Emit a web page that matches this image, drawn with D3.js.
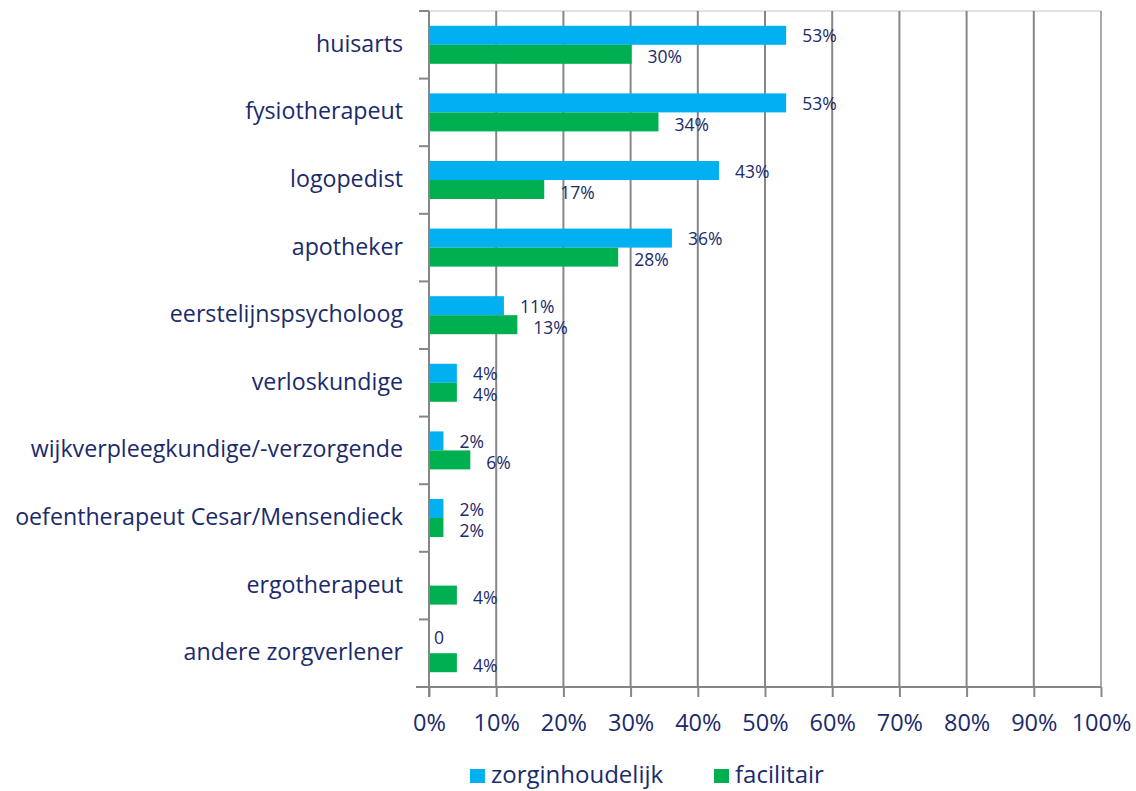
<!DOCTYPE html>
<html><head><meta charset="utf-8">
<script src="https://cdn.jsdelivr.net/npm/d3@7"></script>
<style>
html,body{margin:0;padding:0;background:#fff;}
svg{display:block;font-family:"Open Sans",sans-serif;}
</style></head>
<body><svg id="c" width="1136" height="791"></svg>
<script>
const categories = ["huisarts","fysiotherapeut","logopedist","apotheker","eerstelijnspsycholoog","verloskundige","wijkverpleegkundige/-verzorgende","oefentherapeut Cesar/Mensendieck","ergotherapeut","andere zorgverlener"];
const seriesNames = ["zorginhoudelijk","facilitair"];
const zorginhoudelijk = [53,53,43,36,11,4,2,2,null,0];
const facilitair = [30,34,17,28,13,4,6,2,4,4];
const xTicks = [0,10,20,30,40,50,60,70,80,90,100];
const colors = ["#00B0F0","#00B050"];
const textColor = "#1b2a6b";

const svg = d3.select("#c");
const pL = 429, pR = 1101, pT = 11, pB = 687;
const x = d3.scaleLinear().domain([0,100]).range([pL,pR]);
const y = d3.scaleBand().domain(categories).range([pT,pB]).paddingInner(0).paddingOuter(0);
const inner = d3.scaleBand().domain(seriesNames).range([0,38]);

// top border
svg.append("line").attr("x1",pL).attr("x2",pR+1).attr("y1",pT).attr("y2",pT).attr("stroke","#d9d9d9").attr("stroke-width",1.5);
// gridlines
svg.append("g").selectAll("line").data(xTicks.slice(1)).join("line")
  .attr("x1",d=>x(d)).attr("x2",d=>x(d)).attr("y1",pT).attr("y2",pB)
  .attr("stroke",d=>d===100?"#aaaaaa":"#868686").attr("stroke-width",2);

// bottom axis
const xAxis = d3.axisBottom(x).tickValues(xTicks).tickFormat(d=>d+"%").tickSize(10).tickPadding(17);
const gx = svg.append("g").attr("transform",`translate(0,${pB})`).call(xAxis);
gx.select(".domain").attr("stroke","#868686").attr("stroke-width",2).attr("d",`M${pL-13},0H${pR}`);
gx.selectAll(".tick line").attr("stroke","#868686").attr("stroke-width",2);
gx.selectAll(".tick text").attr("fill",textColor).attr("font-size",23.5).attr("font-family","'Open Sans',sans-serif");

// left axis
const yAxis = d3.axisLeft(y).tickSize(0).tickPadding(26);
const gy = svg.append("g").attr("transform",`translate(${pL},0)`).call(yAxis);
gy.select(".domain").remove();
gy.selectAll(".tick text").attr("fill",textColor).attr("font-size",23.2).attr("font-family","'Open Sans',sans-serif").attr("dy","0.3em");
// category separator ticks
const sepY = categories.map(c=>y(c)).concat([pB]);
svg.append("g").selectAll("line").data(sepY).join("line")
  .attr("x1",pL-10).attr("x2",pL).attr("y1",d=>d).attr("y2",d=>d)
  .attr("stroke","#868686").attr("stroke-width",2);
svg.append("line").attr("x1",pL).attr("x2",pL).attr("y1",pT).attr("y2",pB+10).attr("stroke","#868686").attr("stroke-width",2);

// bars
const rows = categories.map((c,i)=>({c, vals:[zorginhoudelijk[i],facilitair[i]]}));
const g = svg.append("g");
rows.forEach(r=>{
  const y0 = y(r.c) + y.bandwidth()/2 - 19;
  r.vals.forEach((v,j)=>{
    if(v===null) return;
    const s = seriesNames[j];
    if(v>0){
      g.append("rect").attr("x",x(0)+1).attr("y",y0+inner(s)).attr("width",x(v)-x(0)).attr("height",inner.bandwidth())
        .attr("fill",colors[j]);
    }
    g.append("text").attr("x",x(v)+ (v===0?5:17)).attr("y",y0+inner(s)+inner.bandwidth()/2 + (v===0?-6:(j===0?1:3)))
      .attr("dy","0.35em").attr("fill",textColor).attr("font-size",17.5)
      .text(v===0? "0" : v+"%");
  });
});

// legend
const leg = svg.append("g");
[[470,491],[714,735]].forEach((p,i)=>{
  leg.append("rect").attr("x",p[0]).attr("y",769).attr("width",15).attr("height",14).attr("fill",colors[i]);
  leg.append("text").attr("x",p[1]).attr("y",775).attr("dy","0.35em").attr("fill",textColor).attr("font-size",24).text(seriesNames[i]);
});
</script></body></html>
